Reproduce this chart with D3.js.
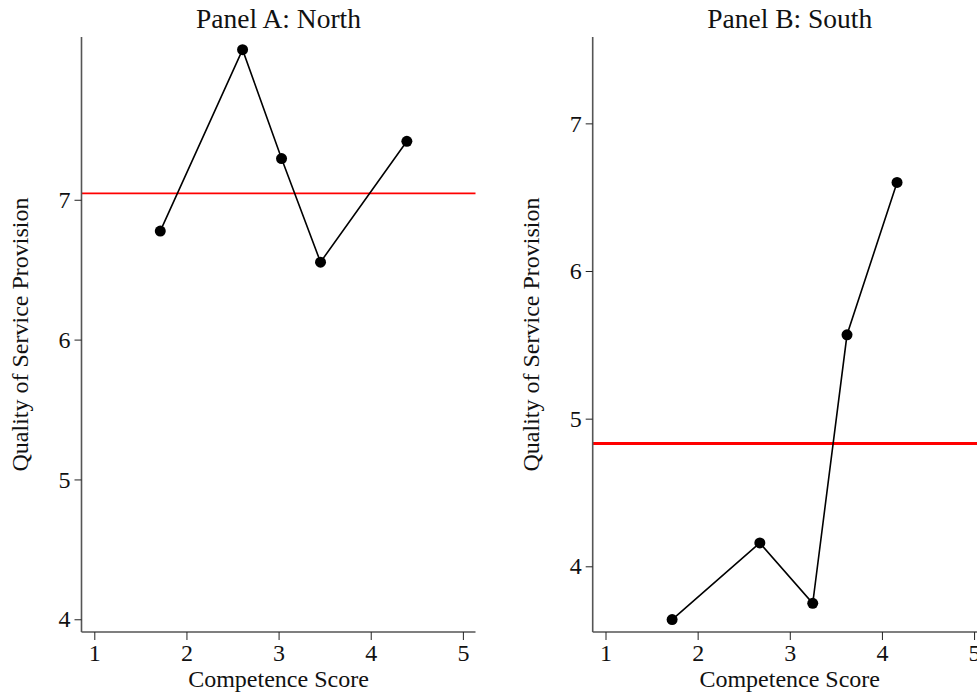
<!DOCTYPE html>
<html>
<head>
<meta charset="utf-8">
<script src="https://cdn.jsdelivr.net/npm/d3@7"></script>
<style>
  body { margin: 0; background: #fff; }
  svg { display: block; overflow: hidden; }
  text { font-family: "Liberation Serif", "Times New Roman", serif; fill: #111; }
</style>
</head>
<body>
<div id="chart"></div>
<script>
// panel A: North
var northScore = [1.716, 2.609, 3.032, 3.455, 4.392];
var northQuality = [6.776, 8.073, 7.295, 6.554, 7.418];
var northMean = 7.046;

// panel B: South
var southScore = [1.723, 2.675, 3.249, 3.621, 4.164];
var southQuality = [3.639, 4.158, 3.749, 5.568, 6.600];
var southMean = 4.831;

var xTicks = [1, 2, 3, 4, 5];
var yTicks = [4, 5, 6, 7];

var svg = d3.select("#chart").append("svg")
	.attr("width", 977).attr("height", 694);

function drawPanel(opts) {
	var left = opts.left, top = 37, w = 394, h = 595;
	var g = svg.append("g").attr("transform", "translate(" + left + "," + top + ")");

	var x = d3.scaleLinear().domain([0.861, 5.137]).range([0, w]);
	var y = d3.scaleLinear().domain(opts.yDomain).range([h, 0]);

	// title
	g.append("text")
		.attr("x", w / 2).attr("y", -9)
		.attr("text-anchor", "middle")
		.style("font-size", "27.5px")
		.text(opts.title);

	// mean line
	g.append("line")
		.attr("x1", 0).attr("x2", w)
		.attr("y1", y(opts.mean)).attr("y2", y(opts.mean))
		.attr("stroke", "#ff0000")
		.attr("stroke-width", opts.meanWidth);

	// axes
	var xAxis = g.append("g").attr("transform", "translate(0," + h + ")")
		.call(d3.axisBottom(x).tickValues(xTicks).tickSize(8).tickPadding(4).tickFormat(d3.format("d")));
	var yAxis = g.append("g")
		.call(d3.axisLeft(y).tickValues(yTicks).tickSize(7).tickPadding(4).tickFormat(d3.format("d")));

	[xAxis, yAxis].forEach(function (a) {
		a.select(".domain").attr("stroke", "#555").attr("stroke-width", 1.6);
		a.selectAll(".tick line").attr("stroke", "#222").attr("stroke-width", 1);
		a.selectAll(".tick text")
			.style("font-family", '"Liberation Serif", serif')
			.style("font-size", "24px")
			.attr("fill", "#111");
	});
	// remove the outer tick stubs of the domain path
	xAxis.select(".domain").attr("d", "M0,0H" + w);
	yAxis.select(".domain").attr("d", "M0," + h + "V0");

	// axis titles
	g.append("text")
		.attr("x", w / 2).attr("y", h + 55)
		.attr("text-anchor", "middle")
		.style("font-size", "24px")
		.text("Competence Score");
	g.append("text")
		.attr("transform", "translate(-54," + (h / 2) + ") rotate(-90)")
		.attr("text-anchor", "middle")
		.style("font-size", "24px")
		.text("Quality of Service Provision");

	var pts = opts.xs.map(function (d, i) { return { x: d, y: opts.ys[i] }; });

	g.append("path")
		.datum(pts)
		.attr("fill", "none")
		.attr("stroke", "#000")
		.attr("stroke-width", 1.6)
		.attr("d", d3.line().x(function (d) { return x(d.x); }).y(function (d) { return y(d.y); }));

	g.selectAll("circle.pt")
		.data(pts).enter()
		.append("circle")
		.attr("class", "pt")
		.attr("cx", function (d) { return x(d.x); })
		.attr("cy", function (d) { return y(d.y); })
		.attr("r", 5.5)
		.attr("fill", "#000");
}

drawPanel({ left: 81.5, title: "Panel A: North", xs: northScore, ys: northQuality,
	mean: northMean, meanWidth: 1.6, yDomain: [3.909, 8.164] });
drawPanel({ left: 592.7, title: "Panel B: South", xs: southScore, ys: southQuality,
	mean: southMean, meanWidth: 3, yDomain: [3.555, 7.585] });
</script>
</body>
</html>
